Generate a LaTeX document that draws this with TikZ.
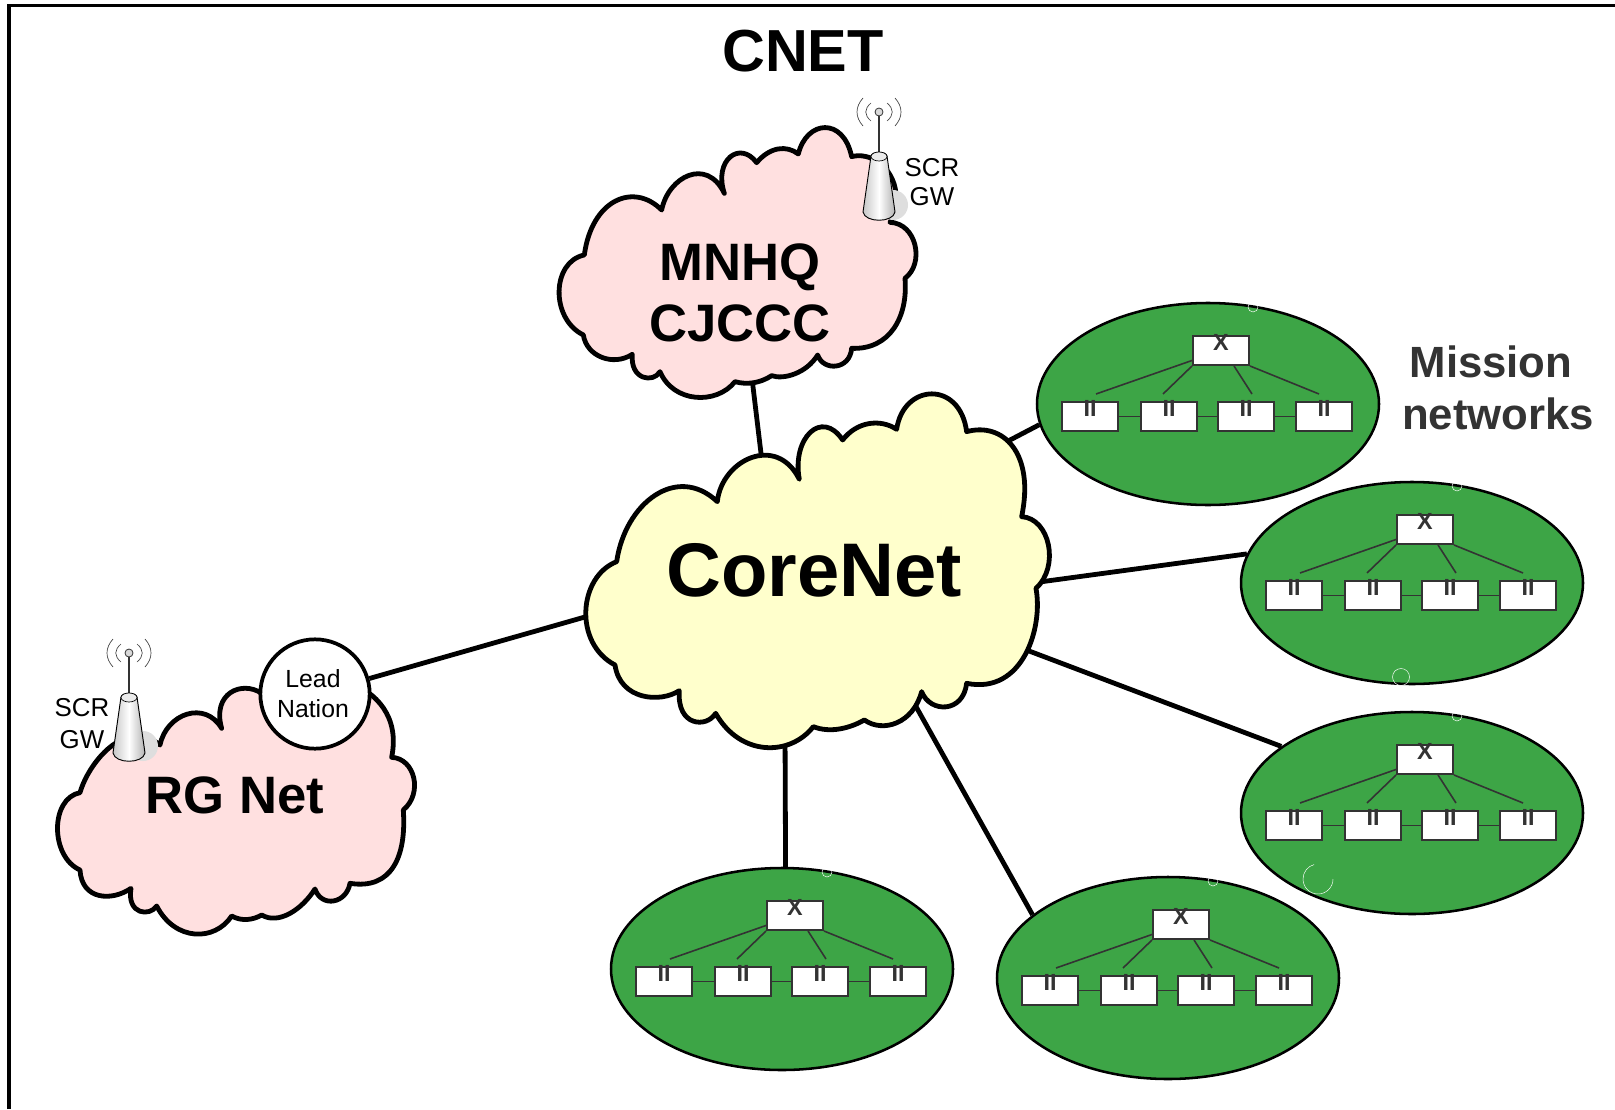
\documentclass[tikz,border=0pt]{standalone}
\usepackage{fontspec}
\setmainfont{Liberation Sans}
\usetikzlibrary{shapes.geometric,backgrounds}
\definecolor{cloudpink}{HTML}{FFE0E0}
\definecolor{cloudyellow}{HTML}{FFFFCC}
\definecolor{netgreen}{HTML}{3DA546}
\definecolor{netgray}{HTML}{333333}
\tikzset{
	cloudline/.style={draw=black,line width=3.6pt,line join=round},
	linkline/.style={draw=black,line width=3.6pt},
	netshape/.style={ellipse,draw=black,fill=netgreen,line width=1.9pt,minimum width=256.5pt,minimum height=151.5pt,inner sep=0pt},
	netbox/.style={rectangle,draw=netgray,fill=white,line width=1.5pt,minimum width=42pt,minimum height=21.75pt,inner sep=0pt,font=\fontsize{17.5}{17.5}\selectfont\bfseries,text=netgray},
	netline/.style={draw=netgray,line width=1.2pt},
	ring/.style={draw=white,line width=0.35pt},
	wave/.style={draw=black!75,line width=0.5pt},
	gwtext/.style={inner sep=0pt,align=center,font=\fontsize{19.4}{#1}\selectfont}
}
\newcommand{\missionnet}[3]{
	\begin{scope}[shift={(#2,#3)}]
		%Shape: Ellipse
		\node (#1) [netshape] at (0,0) {};
		\draw [ring] (45,-97) circle (5);
		%Shape: Boxes
		\node (#1x) [netbox] at (13,-53.5) {\smash{X}};
		\node (#1a) [netbox] at (-118,12.5) {\smash{II}};
		\node (#1b) [netbox] at (-39,12.5) {\smash{II}};
		\node (#1c) [netbox] at (38,12.5) {\smash{II}};
		\node (#1d) [netbox] at (116,12.5) {\smash{II}};
		\coordinate (#1ta) at (-112,-10);
		\coordinate (#1tb) at (-45,-10);
		\coordinate (#1tc) at (44,-10);
		\coordinate (#1td) at (111,-10);
		%Straight Lines
		\draw [netline] (#1x.199) -- (#1ta);
		\draw [netline] (#1x.south west) -- (#1tb);
		\draw [netline] (#1x.-50) -- (#1tc);
		\draw [netline] (#1x.south east) -- (#1td);
		\draw [netline] (#1a) -- (#1b);
		\draw [netline] (#1b) -- (#1c);
		\draw [netline] (#1c) -- (#1d);
	\end{scope}
}
\newcommand{\scrtower}[3]{
	\begin{scope}[shift={(#2,#3)}]
		\fill [black!13] (14,93) circle (15);
		\coordinate (#1top) at (0,44);
		\node (#1ball) [circle,draw=black!80,fill=black!15,line width=0.6pt,minimum size=6pt,inner sep=0pt] at (0,0) {};
		\draw [draw=black!80,line width=0.8pt] (#1ball) -- (#1top);
		\draw [draw=black,line width=0.7pt,left color=black!22,right color=black!30,middle color=white] (-8,44) -- (-16,100) .. controls (-14,111) and (14,111) .. (16,100) -- (8,44) .. controls (7,39) and (-7,39) .. (-8,44) -- cycle;
		\draw [draw=black,line width=0.5pt,fill=black!8] (0,44.5) ellipse (8 and 4.5);
		\draw [wave] (-8,-9) .. controls (-15,-3) and (-15,3) .. (-8,9);
		\draw [wave] (8,-9) .. controls (15,-3) and (15,3) .. (8,9);
		\draw [wave] (-16,-14) .. controls (-24,-5) and (-24,5) .. (-16,14);
		\draw [wave] (16,-14) .. controls (24,-5) and (24,5) .. (16,14);
	\end{scope}
}
\begin{document}
\begin{tikzpicture}[x=0.75pt,y=0.75pt,yscale=-1,xscale=1]
	\useasboundingbox (0,0) rectangle (1615,1109);

	%Straight Lines: frame
	\draw [line width=2.3pt] (9,1109) -- (9,5.5) -- (1615,5.5);

	%Shape: Cloud (MNHQ)
	\begin{scope}[shift={(550,110)},scale=0.3333]
		\draw [cloudline,fill=cloudpink] (103,435) .. controls (125,270) and (250,215) .. (335,300) .. controls (355,200) and (470,140) .. (523,250) .. controls (490,150) and (570,90) .. (620,158) .. controls (660,110) and (710,105) .. (745,132) .. controls (770,30) and (880,20) .. (905,140) .. controls (960,125) and (1030,170) .. (1038,250) .. controls (1045,290) and (1030,320) .. (1020,337) .. controls (1100,340) and (1125,460) .. (1065,505) .. controls (1075,620) and (1020,720) .. (905,715) .. controls (900,780) and (820,785) .. (803,735) .. controls (770,790) and (700,810) .. (665,797) .. controls (630,820) and (590,825) .. (555,815) .. controls (500,885) and (370,880) .. (330,785) .. controls (310,820) and (240,810) .. (247,733) .. controls (190,770) and (110,740) .. (100,675) .. controls (0,625) and (5,455) .. (103,435) -- cycle;
	\end{scope}

	%Shape: Cloud (RG Net)
	\begin{scope}[shift={(45,670)},scale=0.3333]
		\draw [cloudline,fill=cloudpink] (105,368) .. controls (130,280) and (240,140) .. (345,225) .. controls (365,130) and (480,90) .. (530,175) .. controls (500,70) and (590,30) .. (650,70) .. controls (760,-40) and (1090,20) .. (1040,262) .. controls (1110,265) and (1135,370) .. (1075,420) .. controls (1085,560) and (1040,660) .. (915,640) .. controls (905,700) and (830,715) .. (810,657) .. controls (770,720) and (700,765) .. (650,735) .. controls (625,750) and (590,755) .. (560,738) .. controls (510,815) and (390,815) .. (335,708) .. controls (315,740) and (245,735) .. (258,655) .. controls (200,695) and (110,690) .. (105,600) .. controls (15,560) and (15,385) .. (105,368) -- cycle;
	\end{scope}

	%Shape: Cloud (CoreNet)
	\begin{scope}[shift={(570,380)},scale=0.3333]
		\draw [cloudline,fill=cloudyellow] (140,545) .. controls (165,370) and (320,250) .. (442,365) .. controls (455,240) and (620,160) .. (688,298) .. controls (665,175) and (755,85) .. (818,180) .. controls (860,125) and (930,115) .. (980,148) .. controls (1000,10) and (1170,0) .. (1190,155) .. controls (1300,125) and (1395,220) .. (1355,410) .. controls (1440,415) and (1470,560) .. (1398,625) .. controls (1420,740) and (1360,945) .. (1190,910) .. controls (1180,1000) and (1080,1000) .. (1055,935) .. controls (1030,1030) and (940,1060) .. (883,1020) .. controls (840,1045) and (780,1060) .. (730,1040) .. controls (660,1130) and (510,1130) .. (437,1000) .. controls (410,1045) and (320,1040) .. (328,932) .. controls (270,970) and (150,960) .. (135,855) .. controls (10,790) and (25,590) .. (140,545) -- cycle;
	\end{scope}

	\coordinate (mnhqs) at (751,370);
	\coordinate (coren) at (763,470);
	\coordinate (corew) at (620,607);
	\coordinate (corene) at (968,462);
	\coordinate (coree) at (1010,586);
	\coordinate (corese) at (1000,640);
	\coordinate (cores) at (900,678);
	\coordinate (coresw) at (785,730);

	% Text Node
	\node (cnet) [inner sep=0pt,anchor=base,font=\fontsize{44.5}{44.5}\selectfont\bfseries] at (803,71.5) {CNET};
	% Text Node
	\node (mnhq) [inner sep=0pt,align=center,font=\fontsize{39.5}{45.75}\selectfont\bfseries] at (740,293) {MNHQ\\CJCCC};
	% Text Node
	\node (rgnet) [inner sep=0pt,anchor=base,font=\fontsize{39.5}{39.5}\selectfont\bfseries] at (235,813) {RG Net};
	% Text Node
	\node (corenet) [inner sep=0pt,anchor=base,font=\fontsize{57}{57}\selectfont\bfseries] at (814,596) {CoreNet};
	% Text Node
	\node (mission) [inner sep=0pt,anchor=base,text=netgray,font=\fontsize{32.8}{32.8}\selectfont\bfseries] at (1491,377) {Mission};
	\node (networks) [inner sep=0pt,anchor=base,text=netgray,font=\fontsize{32.8}{32.8}\selectfont\bfseries] at (1498,429) {networks};
	% Text Node
	\node (gwright) [gwtext=21.5] at (932,182) {SCR\\GW};
	\node (gwleft) [gwtext=24] at (82,724) {SCR\\GW};

	%Shape: Circle
	\node (lead) [circle,draw=black,fill=white,line width=2.8pt,minimum size=82pt,inner sep=0pt,align=center,font=\fontsize{18.6}{22.5}\selectfont] at (315,694) {\hspace*{-3pt}Lead\\\hspace*{-3pt}Nation};

	\scrtower{gwa}{879}{112}
	\scrtower{gwb}{129}{653}

	\missionnet{neta}{1208}{404}
	\missionnet{netb}{1412}{583}
	\missionnet{netc}{1412}{813}
	\missionnet{netd}{1168}{978}
	\missionnet{nete}{782}{969}

	%Shape: Circle
	\draw [ring] (1401,677) circle (8.5);
	\draw [ring] (1333,879) arc [start angle=0,end angle=255,radius=15];

	\begin{scope}[on background layer]
		\draw [linkline] (mnhqs) -- (coren);
		\draw [linkline] (lead) -- (corew);
		\draw [linkline] (corene) -- (neta.187);
		\draw [linkline] (coree) -- (netb.170);
		\draw [linkline] (corese) -- (netc.153);
		\draw [linkline] (cores) -- (netd.155);
		\draw [linkline] (coresw) -- (nete.88);
	\end{scope}
\end{tikzpicture}
\end{document}
